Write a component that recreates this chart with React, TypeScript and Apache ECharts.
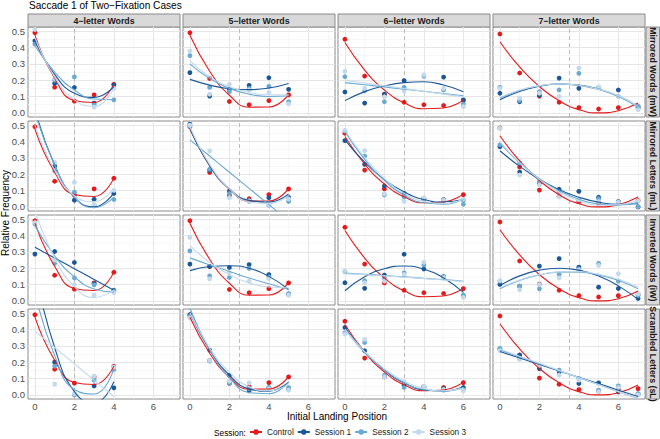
import React, { useEffect, useRef } from "react";
import * as echarts from "echarts";

const FONT = "Liberation Sans, Arial, Helvetica, sans-serif";

const chartTitle = "Saccade 1 of Two\u2212Fixation Cases";
const columnLabels = ["4\u2212letter Words", "5\u2212letter Words", "6\u2212letter Words", "7\u2212letter Words"];
const rowLabels = ["Mirrored Words (mW)", "Mirrored Letters (mL)", "Inverted Words (iW)", "Scrambled Letters (sL)"];
const centerPositions = [2, 2.5, 3, 3.5];
const xTicks = [0, 2, 4, 6];
const yTicks = [0, 0.1, 0.2, 0.3, 0.4, 0.5];
const xMinor = [1, 3, 5, 7];
const yMinor = [0.05, 0.15, 0.25, 0.35, 0.45];
const sessionNames = ["Control", "Session 1", "Session 2", "Session 3"];
const sessionColors = ["#E41A1C", "#1B5797", "#6AA9D3", "#C3D9EC"];

// Control (same in every row), per column
const controlPoints = [
  [0.49, 0.157, 0.072, 0.11, 0.175],
  [0.49, 0.21, 0.07, 0.05, 0.075, 0.11],
  [0.45, 0.225, 0.11, 0.065, 0.05, 0.045, 0.075],
  [0.482, 0.244, 0.103, 0.065, 0.032, 0.024, 0.032, 0.038],
];
const controlFit = [
  [0.475, 0.212, 0.076, 0.064, 0.176],
  [0.475, 0.255, 0.108, 0.035, 0.036, 0.112],
  [0.43, 0.262, 0.14, 0.062, 0.025, 0.03, 0.078],
  [0.435, 0.281, 0.161, 0.074, 0.02, 0.0, 0.0135, 0.06],
];

// Mirrored Words (mW)
const mwS1Points = [
  [0.44, 0.18, 0.155, 0.06, 0.17],
  [0.246, 0.103, 0.144, 0.168, 0.215, 0.144],
  [0.128, 0.06, 0.115, 0.197, null, 0.219, 0.08],
  [0.12, 0.068, 0.109, 0.213, 0.15, null, 0.14, 0.03],
];
const mwS1Fit = [
  [0.44, 0.235, 0.12, 0.095, 0.16],
  [0.205, 0.17, 0.148, 0.142, 0.152, 0.18],
  [0.075, 0.13, 0.165, 0.185, 0.19, 0.17, 0.13],
  [0.08, 0.131, 0.163, 0.177, 0.171, 0.146, 0.103, 0.04],
];
const mwS2Points = [
  [0.42, 0.2, 0.22, 0.05, 0.08],
  [0.35, 0.156, 0.13, 0.15, 0.162, 0.068],
  [0.221, 0.135, 0.068, 0.156, 0.224, 0.14, 0.054],
  [0.156, 0.076, 0.13, 0.14, 0.242, 0.156, 0.1, 0.04],
];
const mwS2Fit = [
  [0.41, 0.25, 0.14, 0.085, 0.08],
  [0.3, 0.21, 0.15, 0.115, 0.1, 0.105],
  [0.185, 0.172, 0.158, 0.145, 0.132, 0.118, 0.105],
  [0.09, 0.137, 0.165, 0.176, 0.168, 0.143, 0.1, 0.035],
];
const mwS3Points = [
  [0.51, 0.21, null, 0.035, 0.15],
  [0.378, 0.115, 0.175, 0.14, 0.125, 0.055],
  [0.254, 0.15, 0.099, 0.135, 0.232, 0.15, 0.038],
  [0.15, 0.09, 0.12, 0.1, 0.274, 0.16, 0.1, 0.02],
];
const mwS3Fit = [
  [0.46, 0.22, 0.08, 0.04, 0.15],
  [0.32, 0.22, 0.16, 0.125, 0.11, 0.11],
  [0.2, 0.183, 0.166, 0.149, 0.132, 0.115, 0.098],
  [0.095, 0.14, 0.167, 0.177, 0.169, 0.145, 0.105, 0.04],
];

// Mirrored Letters (mL)
const mlS1Points = [
  [null, 0.25, 0.041, 0.047, 0.082],
  [0.506, 0.224, 0.097, 0.037, 0.056, 0.058],
  [0.405, 0.26, 0.128, 0.083, 0.05, 0.042, 0.042],
  [0.368, 0.213, 0.144, 0.108, 0.095, 0.059, 0.03, 0.0],
];
const mlS1Fit = [
  [0.597, 0.256, 0.058, 0.001, 0.086],
  [0.48, 0.25, 0.11, 0.04, 0.03, 0.08],
  [0.41, 0.273, 0.167, 0.091, 0.045, 0.03, 0.045],
  [0.343, 0.248, 0.168, 0.105, 0.059, 0.029, 0.016, 0.019],
];
const mlS2Points = [
  [null, 0.22, 0.09, 0.01, 0.045],
  [0.494, 0.23, 0.082, 0.035, 0.01, 0.033],
  [0.464, 0.311, 0.073, 0.06, 0.05, 0.045, 0.016],
  [0.38, 0.27, 0.154, 0.093, 0.042, 0.05, 0.032, 0.001],
];
const mlS2Fit = [
  [0.58, 0.255, 0.06, -0.005, 0.06],
  [0.41, 0.311, 0.212, 0.113, 0.014, -0.085],
  [0.46, 0.29, 0.162, 0.073, 0.025, 0.017, 0.049],
  [0.39, 0.27, 0.173, 0.099, 0.047, 0.017, 0.011, 0.026],
];
const mlS3Points = [
  [null, 0.272, 0.15, 0.015, 0.1],
  [0.5, 0.342, 0.056, 0.037, 0.014, 0.049],
  [0.468, 0.344, 0.08, 0.035, 0.055, 0.04, 0.046],
  [0.48, 0.195, 0.134, 0.062, 0.046, 0.032, 0.028, 0.036],
];
const mlS3Fit = [
  [0.5, 0.224, 0.068, 0.032, 0.116],
  [0.49, 0.26, 0.11, 0.03, 0.02, 0.07],
  [0.47, 0.302, 0.173, 0.083, 0.033, 0.021, 0.048],
  [0.4, 0.27, 0.168, 0.09, 0.039, 0.01, 0.013, 0.039],
];

// Inverted Words (iW)
const iwS1Points = [
  [0.286, 0.302, 0.235, 0.106, 0.065],
  [0.225, 0.21, 0.204, 0.222, 0.161, 0.039],
  [0.111, 0.077, 0.158, 0.285, 0.195, 0.148, 0.03],
  [0.1, 0.09, 0.213, 0.258, 0.206, 0.084, 0.076, 0.015],
];
const iwS1Fit = [
  [0.328, 0.262, 0.197, 0.131, 0.065],
  [0.185, 0.21, 0.215, 0.2, 0.15, 0.07],
  [0.062, 0.147, 0.197, 0.213, 0.194, 0.14, 0.052],
  [0.094, 0.153, 0.188, 0.2, 0.188, 0.152, 0.092, 0.009],
];
const iwS2Points = [
  [0.47, 0.23, 0.14, 0.098, 0.06],
  [0.306, 0.153, 0.143, 0.198, 0.147, 0.045],
  [0.179, 0.123, 0.138, 0.172, 0.22, 0.148, 0.036],
  [0.121, 0.09, 0.074, 0.162, 0.196, 0.229, 0.121, 0.033],
];
const iwS2Fit = [
  [0.46, 0.276, 0.147, 0.073, 0.055],
  [0.263, 0.22, 0.18, 0.14, 0.105, 0.07],
  [0.17, 0.163, 0.155, 0.147, 0.138, 0.13, 0.12],
  [0.075, 0.125, 0.159, 0.176, 0.176, 0.159, 0.125, 0.075],
];
const iwS3Points = [
  [0.478, 0.25, 0.1, 0.035, 0.05],
  [0.388, 0.135, 0.172, 0.121, 0.137, 0.035],
  [0.183, 0.111, 0.121, 0.162, 0.236, 0.142, 0.021],
  [0.125, 0.068, 0.1, 0.141, 0.188, 0.217, 0.166, 0.043],
];
const iwS3Fit = [
  [0.55, 0.263, 0.087, 0.021, 0.065],
  [0.34, 0.235, 0.16, 0.11, 0.085, 0.08],
  [0.165, 0.16, 0.153, 0.145, 0.137, 0.128, 0.118],
  [0.08, 0.128, 0.16, 0.177, 0.178, 0.163, 0.132, 0.085],
];

// Scrambled Letters (sL)
const slS1Points = [
  [null, 0.2, null, 0.055, 0.043],
  [0.49, 0.274, 0.12, 0.025, 0.043, 0.033],
  [0.412, 0.27, 0.114, 0.059, 0.049, 0.039, 0.045],
  [0.28, 0.243, 0.161, 0.141, 0.07, 0.074, 0.019, 0.005],
];
const slS1Fit = [
  [0.76, 0.29, 0.02, -0.05, 0.08],
  [0.5, 0.275, 0.121, 0.037, 0.023, 0.079],
  [0.412, 0.264, 0.151, 0.073, 0.031, 0.024, 0.052],
  [0.265, 0.226, 0.186, 0.147, 0.108, 0.069, 0.029, -0.01],
];
const slS2Points = [
  [null, 0.176, 0.0, 0.09, 0.155],
  [0.48, 0.206, 0.07, 0.04, 0.045, 0.045],
  [0.38, 0.32, 0.12, 0.045, 0.045, 0.029, 0.033],
  [0.284, 0.223, null, 0.151, 0.1, 0.029, 0.055, 0.008],
];
const slS2Fit = [
  [0.627, 0.24, 0.033, 0.006, 0.159],
  [0.53, 0.276, 0.105, 0.015, 0.007, 0.08],
  [0.4, 0.259, 0.151, 0.075, 0.033, 0.023, 0.046],
  [0.275, 0.233, 0.19, 0.148, 0.105, 0.063, 0.02, -0.022],
];
const slS3Points = [
  [null, 0.066, 0.008, 0.115, 0.17],
  [0.47, 0.21, 0.084, 0.074, 0.037, 0.029],
  [0.372, 0.339, 0.11, 0.08, 0.053, 0.033, 0.025],
  [0.27, 0.217, 0.18, 0.12, 0.09, 0.019, 0.045, 0.0],
];
const slS3Fit = [
  [0.39, 0.29, 0.19, 0.09, -0.01],
  [0.5, 0.287, 0.138, 0.05, 0.025, 0.063],
  [0.4, 0.265, 0.16, 0.085, 0.04, 0.025, 0.04],
  [0.28, 0.236, 0.193, 0.15, 0.107, 0.064, 0.02, -0.02],
];

const rowPoints = [
  [mwS1Points, mwS2Points, mwS3Points],
  [mlS1Points, mlS2Points, mlS3Points],
  [iwS1Points, iwS2Points, iwS3Points],
  [slS1Points, slS2Points, slS3Points],
];
const rowFits = [
  [mwS1Fit, mwS2Fit, mwS3Fit],
  [mlS1Fit, mlS2Fit, mlS3Fit],
  [iwS1Fit, iwS2Fit, iwS3Fit],
  [slS1Fit, slS2Fit, slS3Fit],
];

// layout
const PANEL_LEFT = 28;
const COL_STEP = 155;
const PANEL_W = 152;
const PANEL_TOP = 27;
const ROW_STEP = 94;
const PANEL_H = 90;
const X_MIN = -0.35;
const X_MAX = 7.35;
const Y_MIN = -0.025;
const Y_MAX = 0.525;

function buildOption() {
  const grids: any[] = [];
  const xAxes: any[] = [];
  const yAxes: any[] = [];
  const series: any[] = [];
  const graphics: any[] = [];

  for (let r = 0; r < 4; r++) {
    for (let c = 0; c < 4; c++) {
      const gi = r * 4 + c;
      const left = PANEL_LEFT + COL_STEP * c;
      const top = PANEL_TOP + ROW_STEP * r;
      grids.push({
        left,
        top,
        width: PANEL_W,
        height: PANEL_H,
        show: true,
        backgroundColor: "#ffffff",
        borderColor: "#8a8a8a",
        borderWidth: 1,
        z: 0,
      });
      xAxes.push({
        gridIndex: gi,
        type: "value",
        min: X_MIN,
        max: X_MAX,
        axisLine: { show: false },
        splitLine: { show: false },
        axisTick: {
          show: r === 3,
          customValues: xTicks,
          length: 2.5,
          lineStyle: { color: "#555555", width: 1 },
        },
        axisLabel: {
          show: r === 3,
          customValues: xTicks,
          margin: 2,
          fontSize: 9.5,
          lineHeight: 10,
          color: "#4d4d4d",
          fontFamily: FONT,
        },
      });
      yAxes.push({
        gridIndex: gi,
        type: "value",
        min: Y_MIN,
        max: Y_MAX,
        axisLine: { show: false },
        splitLine: { show: false },
        axisTick: {
          show: c === 0,
          customValues: yTicks,
          length: 2.5,
          lineStyle: { color: "#555555", width: 1 },
        },
        axisLabel: {
          show: c === 0,
          customValues: yTicks,
          margin: 3,
          fontSize: 9.5,
          color: "#4d4d4d",
          fontFamily: FONT,
          formatter: (v: number) => v.toFixed(1),
        },
      });

      const gridLines: any[] = [];
      xMinor.forEach((v) =>
        gridLines.push({ xAxis: v, lineStyle: { color: "#f1f1f1", width: 0.6, type: "solid" } })
      );
      yMinor.forEach((v) =>
        gridLines.push({ yAxis: v, lineStyle: { color: "#f1f1f1", width: 0.6, type: "solid" } })
      );
      xTicks.forEach((v) =>
        gridLines.push({ xAxis: v, lineStyle: { color: "#e6e6e6", width: 1, type: "solid" } })
      );
      yTicks.forEach((v) =>
        gridLines.push({ yAxis: v, lineStyle: { color: "#e6e6e6", width: 1, type: "solid" } })
      );
      gridLines.push({
        xAxis: centerPositions[c],
        lineStyle: { color: "#b5b5b5", width: 0.9, type: [4, 3] },
      });
      series.push({
        type: "line",
        name: "grid" + gi,
        xAxisIndex: gi,
        yAxisIndex: gi,
        data: [],
        silent: true,
        z: 1,
        markLine: {
          silent: true,
          z: 1,
          symbol: ["none", "none"],
          label: { show: false },
          animation: false,
          data: gridLines,
        },
      });

      const ptsList = [controlPoints[c], ...rowPoints[r].map((s) => s[c])];
      const fitList = [controlFit[c], ...rowFits[r].map((s) => s[c])];
      for (let s = 0; s < 4; s++) {
        series.push({
          type: "line",
          name: sessionNames[s],
          xAxisIndex: gi,
          yAxisIndex: gi,
          data: fitList[s].map((v, i) => [i, v]),
          smooth: true,
          symbol: "circle",
          symbolSize: 4,
          showSymbol: false,
          clip: true,
          lineStyle: { color: sessionColors[s], width: 1.1 },
          itemStyle: { color: sessionColors[s] },
          z: 4 + s,
          silent: true,
        });
      }
      for (let s = 0; s < 4; s++) {
        const data = ptsList[s]
          .map((v, i) => (v === null ? null : [i, v]))
          .filter((d) => d !== null);
        series.push({
          type: "scatter",
          name: sessionNames[s] + " pts",
          xAxisIndex: gi,
          yAxisIndex: gi,
          data,
          symbol: "circle",
          symbolSize: 4.8,
          clip: true,
          itemStyle: { color: sessionColors[s], opacity: 1 },
          z: 3 + s * 0.1,
          silent: true,
        });
      }
    }
  }

  // top strips
  for (let c = 0; c < 4; c++) {
    const left = PANEL_LEFT + COL_STEP * c;
    graphics.push({
      type: "rect",
      shape: { x: left, y: 14, width: PANEL_W, height: 13 },
      style: { fill: "#d9d9d9", stroke: "#8a8a8a", lineWidth: 1 },
    });
    graphics.push({
      type: "text",
      x: left + PANEL_W / 2,
      y: 20.8,
      style: {
        text: columnLabels[c],
        fontSize: 8.8,
        fontWeight: "bold",
        fontFamily: FONT,
        fill: "#1a1a1a",
        align: "center",
        verticalAlign: "middle",
      },
    });
  }
  // right strips
  for (let r = 0; r < 4; r++) {
    const top = PANEL_TOP + ROW_STEP * r;
    graphics.push({
      type: "rect",
      shape: { x: 646, y: top, width: 13.5, height: PANEL_H },
      style: { fill: "#d9d9d9", stroke: "#8a8a8a", lineWidth: 1 },
    });
    graphics.push({
      type: "text",
      x: 652.8,
      y: top + PANEL_H / 2,
      rotation: -Math.PI / 2,
      style: {
        text: rowLabels[r],
        fontSize: 8.8,
        fontWeight: "bold",
        fontFamily: FONT,
        fill: "#1a1a1a",
        align: "center",
        verticalAlign: "middle",
      },
    });
  }
  // axis titles
  graphics.push({
    type: "text",
    x: 5,
    y: 213,
    rotation: Math.PI / 2,
    style: {
      text: "Relative Frequency",
      fontSize: 10,
      fontFamily: FONT,
      fill: "#000000",
      align: "center",
      verticalAlign: "middle",
    },
  });
  graphics.push({
    type: "text",
    x: 337,
    y: 416,
    style: {
      text: "Initial Landing Position",
      fontSize: 10,
      fontFamily: FONT,
      fill: "#000000",
      align: "center",
      verticalAlign: "middle",
    },
  });
  graphics.push({
    type: "text",
    x: 214,
    y: 433,
    style: {
      text: "Session:",
      fontSize: 8.3,
      fontFamily: FONT,
      fill: "#000000",
      align: "left",
      verticalAlign: "middle",
    },
  });

  return {
    animation: false,
    backgroundColor: "#ffffff",
    title: {
      text: chartTitle,
      left: 29,
      top: 0,
      padding: 0,
      textStyle: {
        fontSize: 10.1,
        fontWeight: "normal",
        fontFamily: FONT,
        color: "#000000",
        lineHeight: 11,
      },
    },
    grid: grids,
    xAxis: xAxes,
    yAxis: yAxes,
    legend: {
      data: sessionNames,
      left: 249,
      top: 428,
      padding: 0,
      itemWidth: 12,
      itemHeight: 7,
      itemGap: 3,
      selectedMode: false,
      textStyle: { fontSize: 8.3, color: "#1a1a1a", fontFamily: FONT },
    },
    graphic: graphics,
    series,
  };
}

export default function App() {
  const ref = useRef<HTMLDivElement | null>(null);
  useEffect(() => {
    if (!ref.current) return;
    const chart = echarts.init(ref.current, undefined, { renderer: "svg" });
    chart.setOption(buildOption() as any);
    return () => {
      chart.dispose();
    };
  }, []);
  return (
    <div
      ref={ref}
      style={{ position: "absolute", left: 0, top: 0, width: 660, height: 439 }}
    />
  );
}
